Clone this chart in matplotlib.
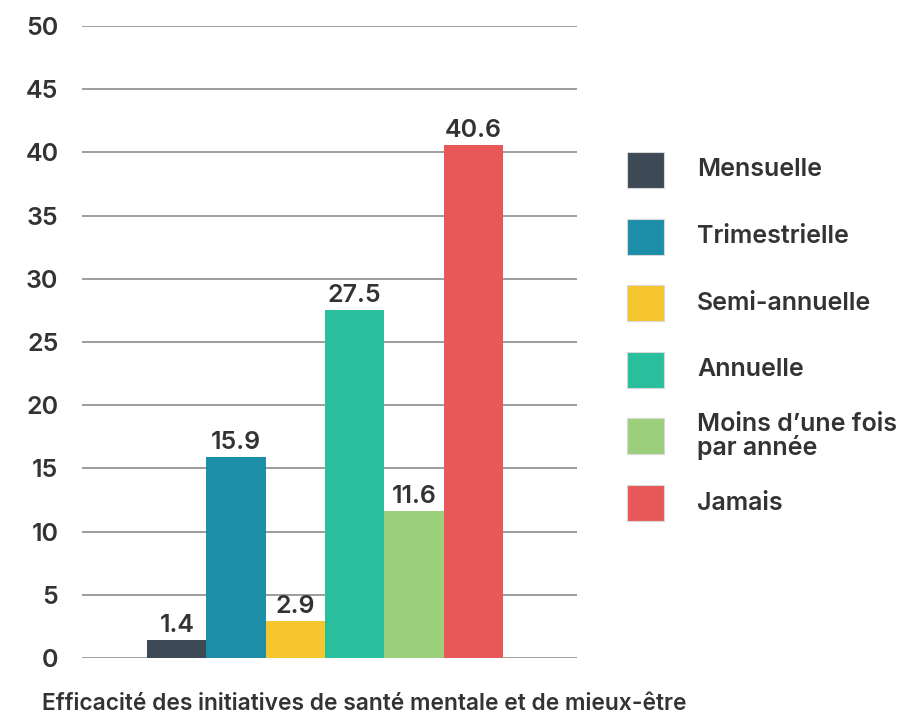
import matplotlib
matplotlib.use("Agg")
import matplotlib.pyplot as plt
from matplotlib.patches import Rectangle

categories = ["Mensuelle", "Trimestrielle", "Semi-annuelle", "Annuelle",
              "Moins d\u2019une fois\npar année", "Jamais"]
values = [1.4, 15.9, 2.9, 27.5, 11.6, 40.6]
colors = ["#3d4955", "#1c8ea7", "#f6c62e", "#2abf9c", "#9bcf7b", "#e85858"]
yticks = [0, 5, 10, 15, 20, 25, 30, 35, 40, 45, 50]
xlabel = "Efficacité des initiatives de santé mentale et de mieux-être"

plt.rcParams['font.family'] = ['Inter', 'DejaVu Sans']
txt = "#333333"
W = "semibold"
FS = 18

fig = plt.figure(figsize=(9.12, 7.17), dpi=100)
ax = fig.add_axes([82/912, 1-658/717, (577-82)/912, (658-26)/717])

x = list(range(len(values)))
bars = ax.bar(x, values, width=1.0, color=colors, zorder=3)
for xi, v in zip(x, values):
    ax.annotate(f"{v}", (xi, v), xytext=(0, 8), textcoords="offset pixels",
                ha="center", va="baseline", fontsize=FS, fontweight=W, color=txt)

ax.set_xlim(-1.6, 6.75)
ax.set_ylim(0, 50)
ax.set_yticks(yticks)
ax.set_yticklabels([str(t) for t in yticks], fontsize=FS, fontweight=W, color=txt)
ax.set_xticks([])
ax.grid(axis="y", color="#8c8c8c", linewidth=1.2, zorder=0)
ax.tick_params(axis="y", length=0, pad=17)
for s in ax.spines.values():
    s.set_visible(False)
ax.set_axisbelow(True)

# legend drawn manually
top = 170
step = 66.6
for i, (lab, col) in enumerate(zip(categories, colors)):
    cy = top + i * step
    fig.patches.append(Rectangle((627/912, 1-(cy+18)/717), 37/912, 36/717,
                                 transform=fig.transFigure, facecolor=col,
                                 edgecolor="#d8d8d8", linewidth=0.8))
    fig.text(697/912, 1-cy/717, lab, ha="left", va="center", fontsize=FS,
             fontweight=W, color=txt, linespacing=0.92)

fig.text(42/912, 1-710/717, xlabel, ha="left", va="baseline", fontsize=16.4,
         fontweight=W, color=txt)

fig.savefig("out.png", dpi=100)
